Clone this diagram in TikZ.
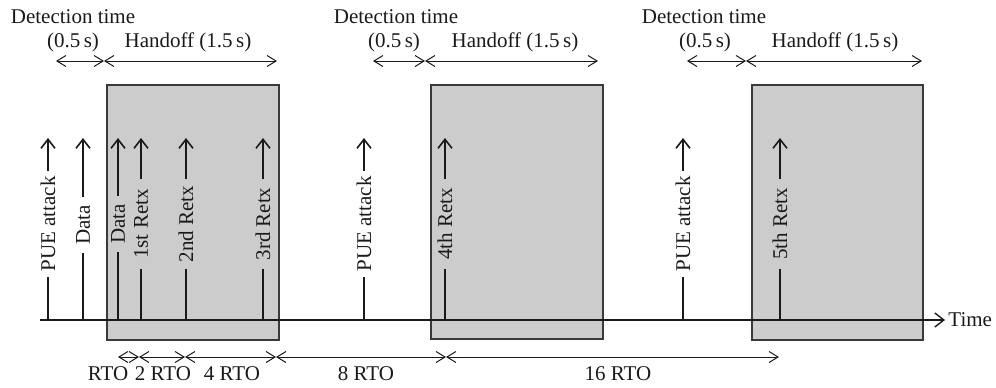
\documentclass[tikz,border=0pt]{standalone}
\usepackage{fontspec}
\setmainfont{Liberation Serif}
\usetikzlibrary{arrows.meta}
\definecolor{boxgray}{HTML}{CCCCCC}
\definecolor{edgegray}{HTML}{3A3A3A}
\definecolor{inkgray}{HTML}{1A1A1A}
\begin{document}
\begin{tikzpicture}[x=0.5pt,y=-0.5pt,
  txt/.style={font=\fontsize{10.5}{12}\selectfont, inner sep=0pt, text=inkgray},
  lab/.style={txt, rotate=90},
  pue/.style={lab, minimum width=53pt},
  datalab/.style={lab, minimum width=28pt},
  retx/.style={lab, minimum width=45pt},
  vln/.style={line width=0.8pt, draw=inkgray},
  varr/.style={vln, -{Straight Barb[length=4.5pt,width=7pt]}},
  dimarr/.style={line width=0.5pt, draw=inkgray, {Straight Barb[length=4.5pt,width=5.5pt]}-{Straight Barb[length=4.5pt,width=5.5pt]}},
  axis/.style={line width=0.7pt, draw=inkgray, -{Straight Barb[length=4.5pt,width=7pt]}},
  handoffbox/.style={draw=edgegray, fill=boxgray, line width=1pt}]
\useasboundingbox (0,0) rectangle (996,387);

% handoff boxes
\path[handoffbox] (107,85) rectangle (279,340);
\path[handoffbox] (431,85) rectangle (603,339);
\path[handoffbox] (752,85) rectangle (923,340);

% time axis
\coordinate (axstart) at (40,320);
\node[txt, anchor=west, inner xsep=1.5pt] (time) at (945,320) {Time};
\draw[axis] (axstart) -- (time.west);

% vertical events
\foreach \n/\x in {a/48,b/83,c/118,d/141,e/186,f/263,g/364,h/445,i/683,j/780}{
  \coordinate (base\n) at (\x,320);
  \coordinate (top\n) at (\x,138);
}
\node[pue] (la) at (48,224) {PUE attack};
\node[datalab] (lb) at (83,225) {Data};
\node[datalab, fill=boxgray] (lc) at (118,224) {Data};
\node[retx] (ld) at (141,224) {1st Retx};
\node[retx] (le) at (186,224) {2nd Retx};
\node[retx] (lf) at (263,224) {3rd Retx};
\node[pue] (lg) at (364,224) {PUE attack};
\node[retx] (lh) at (445,224) {4th Retx};
\node[pue] (li) at (683,224) {PUE attack};
\node[retx] (lj) at (780,224) {5th Retx};
\foreach \n in {a,b,c,d,e,f,g,h,i,j}{
  \draw[vln] (base\n) -- (l\n.west);
  \draw[varr] (l\n.east) -- (top\n);
}

% top dimensions
\foreach \k/\xa/\xb/\xc in {1/56/104/277, 2/373/425/598, 3/687/746/922}{
  \coordinate (dA\k) at (\xa,61);
  \coordinate (dB\k) at (\xb,61);
  \coordinate (dC\k) at (\xc,61);
  \draw[dimarr] (dA\k) -- (dB\k);
  \draw[dimarr] (dB\k) -- (dC\k);
}
\node[txt] (det1) at (73,17) {Detection time};
\node[txt] (det2) at (396,17) {Detection time};
\node[txt] (det3) at (704,17) {Detection time};
\node[txt] (half1) at (73,42) {(0.5\,s)};
\node[txt] (half2) at (394,42) {(0.5\,s)};
\node[txt] (half3) at (705,42) {(0.5\,s)};
\node[txt] (hand1) at (188,42) {Handoff (1.5\,s)};
\node[txt] (hand2) at (515,42) {Handoff (1.5\,s)};
\node[txt] (hand3) at (835,42) {Handoff (1.5\,s)};

% bottom RTO dimensions
\foreach \n/\x in {0/118,1/139,2/185,3/276,4/446,5/779}{
  \coordinate (r\n) at (\x,357);
}
\draw[dimarr] (r0) -- (r1);
\draw[dimarr] (r1) -- (r2);
\draw[dimarr] (r2) -- (r3);
\draw[dimarr] (r3) -- (r4);
\draw[dimarr] (r4) -- (r5);
\node[txt] (rto1) at (108,374) {RTO};
\node[txt] (rto2) at (163,374) {2 RTO};
\node[txt] (rto4) at (232,374) {4 RTO};
\node[txt] (rto8) at (366,374) {8 RTO};
\node[txt] (rto16) at (618,374) {16 RTO};
\end{tikzpicture}
\end{document}
